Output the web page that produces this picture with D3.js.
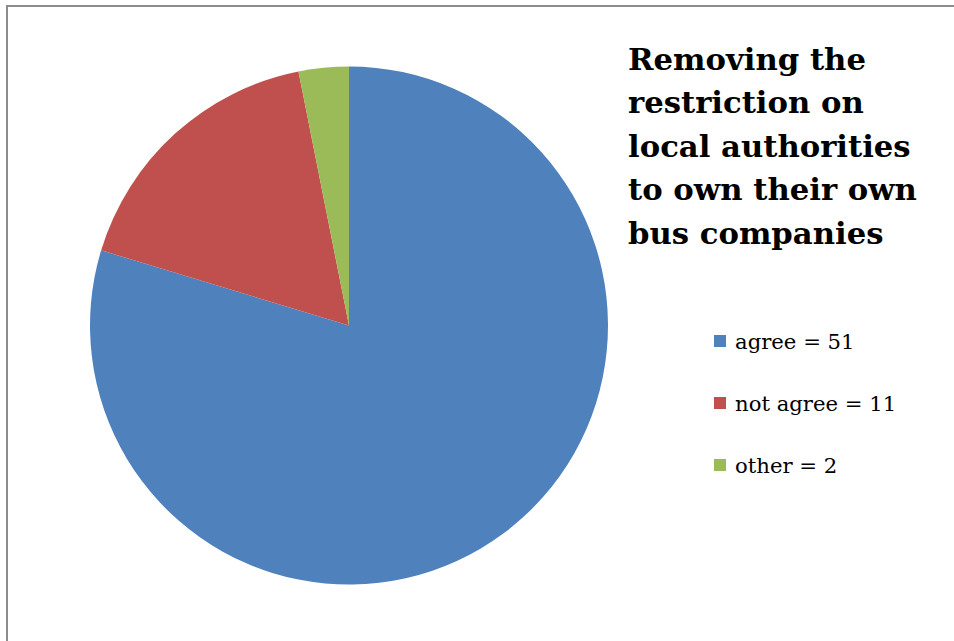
<!DOCTYPE html>
<html>
<head>
<meta charset="utf-8">
<script src="https://cdn.jsdelivr.net/npm/d3@7"></script>
<style>
  html, body { margin: 0; padding: 0; background: #fff; }
  #chart { width: 954px; height: 641px; overflow: hidden; }
</style>
</head>
<body>
<div id="chart"></div>
<script>
const categories = ["agree", "not agree", "other"];
const counts = [51, 11, 2];
const sliceColors = ["#4F81BD", "#C0504D", "#9BBB59"];
const titleLines = [
    "Removing the",
    "restriction on",
    "local authorities",
    "to own their own",
    "bus companies"
];

function init() {
    var w = 954;
    var h = 641;
    var cx = 349;
    var cy = 325.5;
    var radius = 259;

    var svg = d3.select("#chart").append("svg")
        .attr("width", w)
        .attr("height", h);

    // chart area border (runs off the right and bottom edge)
    svg.append("rect")
        .attr("x", 7)
        .attr("y", 6)
        .attr("width", w + 20)
        .attr("height", h + 20)
        .attr("fill", "#fff")
        .attr("stroke", "#8c8c8c")
        .attr("stroke-width", 2);

    var color = d3.scaleOrdinal().domain(categories).range(sliceColors);

    var pie = d3.pie()
        .sort(null)
        .value(d => d.value);

    var arc = d3.arc()
        .innerRadius(0)
        .outerRadius(radius);

    var data = categories.map((c, i) => ({ name: c, value: counts[i] }));

    svg.append("g")
        .attr("transform", `translate(${cx},${cy})`)
        .selectAll("path")
        .data(pie(data))
        .join("path")
        .attr("d", arc)
        .attr("fill", d => color(d.data.name));

    // title
    svg.append("text")
        .attr("x", 628)
        .attr("y", 69.5)
        .style("font-family", "'DejaVu Serif', serif")
        .style("font-weight", "bold")
        .style("font-size", "30.7px")
        .attr("fill", "#000")
        .selectAll("tspan")
        .data(titleLines)
        .join("tspan")
        .attr("x", 628)
        .attr("dy", (d, i) => i === 0 ? 0 : 43.5)
        .text(d => d);

    // legend
    var legend = svg.append("g")
        .selectAll("g")
        .data(data)
        .join("g")
        .attr("transform", (d, i) => `translate(714,${335 + i * 62})`);

    legend.append("rect")
        .attr("width", 12)
        .attr("height", 12)
        .attr("fill", d => color(d.name));

    legend.append("text")
        .attr("x", 21)
        .attr("y", 13.5)
        .style("font-family", "'DejaVu Serif', serif")
        .style("font-size", "21.2px")
        .attr("fill", "#000")
        .text(d => `${d.name} = ${d.value}`);
}

window.onload = init;
</script>
</body>
</html>
